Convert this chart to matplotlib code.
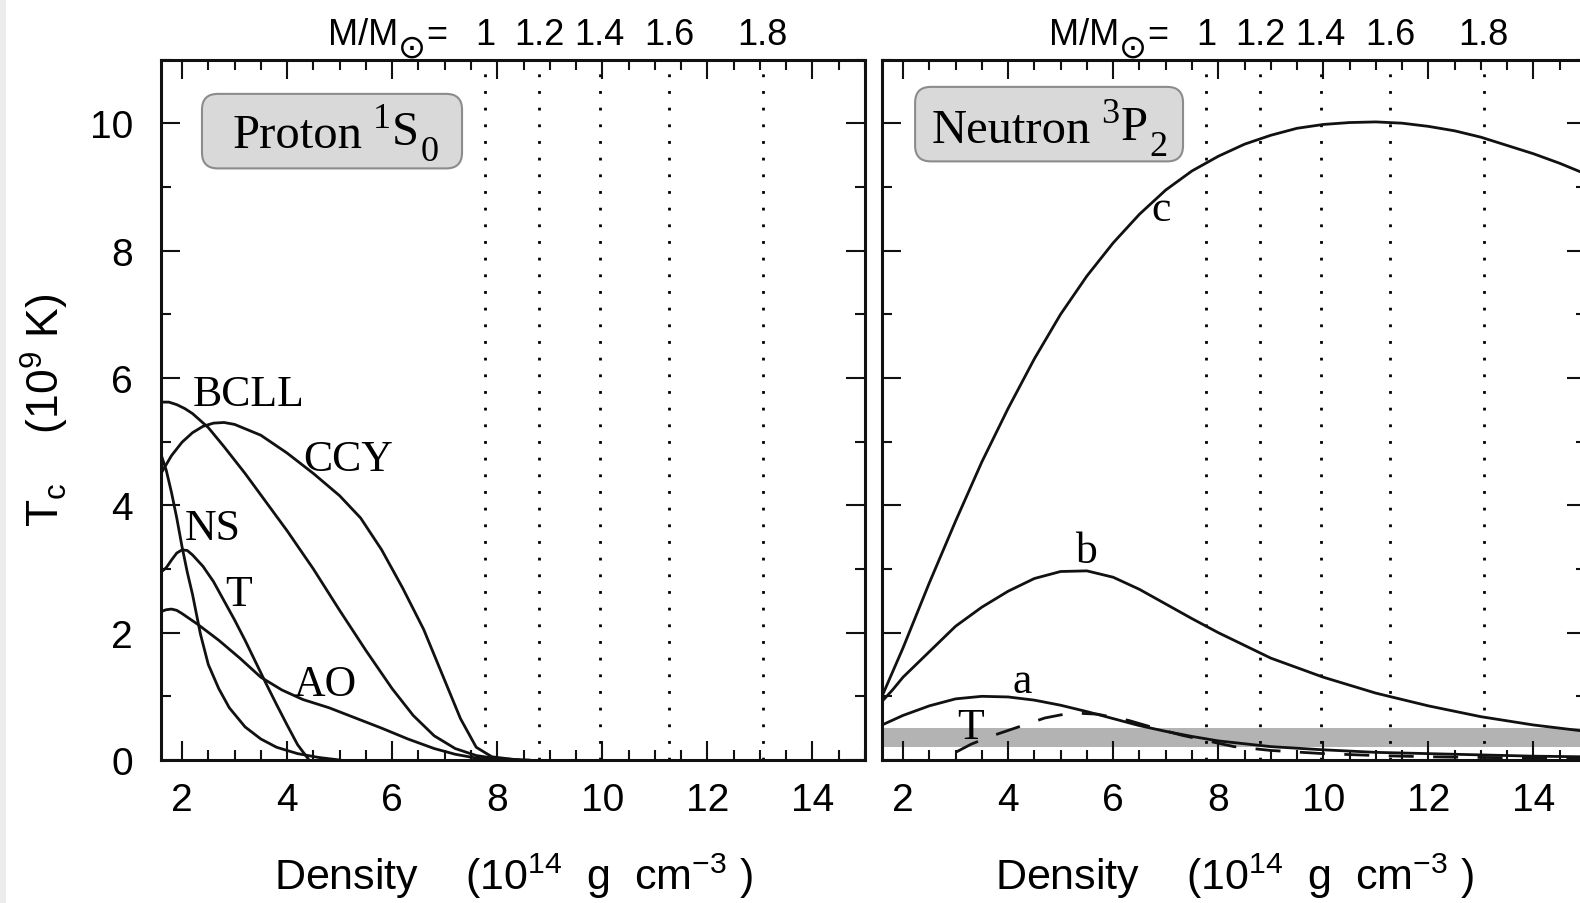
import matplotlib
matplotlib.use("Agg")
import matplotlib.pyplot as plt
from matplotlib.patches import Rectangle, FancyBboxPatch
from matplotlib.ticker import MultipleLocator

plt.rcParams['font.family'] = ['Liberation Sans', 'DejaVu Sans']
plt.rcParams['mathtext.fontset'] = 'custom'
plt.rcParams['mathtext.rm'] = 'Liberation Sans'
plt.rcParams['mathtext.it'] = 'Liberation Sans:italic'
plt.rcParams['mathtext.bf'] = 'Liberation Sans:bold'

# stellar mass markers (central density where M/Msun is reached)
mass_rho = [7.77, 8.8, 9.95, 11.27, 13.05]
mass_lbl = ['1', '1.2', '1.4', '1.6', '1.8']

# proton 1S0 gap models
bcll_x = [1.6, 1.75, 1.9, 2.05, 2.2, 2.5, 2.8, 3.2, 3.6, 4.0, 4.5, 5.0, 5.5, 6.0, 6.4, 6.8, 7.2, 7.6, 8.0, 8.6]
bcll_y = [5.62, 5.62, 5.58, 5.52, 5.44, 5.22, 4.92, 4.5, 4.05, 3.6, 3.0, 2.35, 1.72, 1.12, 0.7, 0.38, 0.18, 0.07, 0.02, 0.0]

ccy_x = [1.6, 1.8, 2.0, 2.2, 2.4, 2.6, 2.8, 3.0, 3.5, 4.0, 4.5, 5.0, 5.4, 5.8, 6.2, 6.6, 7.0, 7.3, 7.6, 7.9, 8.4]
ccy_y = [4.5, 4.78, 4.99, 5.14, 5.24, 5.29, 5.3, 5.27, 5.1, 4.82, 4.5, 4.15, 3.8, 3.3, 2.7, 2.05, 1.25, 0.65, 0.2, 0.05, 0.0]

ns_x = [1.6, 1.7, 1.8, 1.9, 2.0, 2.1, 2.2, 2.35, 2.5, 2.7, 2.9, 3.2, 3.5, 3.8, 4.2, 4.6, 5.0]
ns_y = [4.8, 4.55, 4.2, 3.8, 3.35, 2.95, 2.6, 1.98, 1.5, 1.12, 0.82, 0.52, 0.33, 0.2, 0.1, 0.04, 0.0]

t_x = [1.6, 1.7, 1.8, 1.9, 2.0, 2.1, 2.2, 2.4, 2.6, 2.8, 3.0, 3.2, 3.4, 3.6, 3.8, 4.0, 4.2, 4.4]
t_y = [2.95, 3.02, 3.14, 3.25, 3.3, 3.29, 3.22, 3.04, 2.8, 2.5, 2.2, 1.88, 1.54, 1.2, 0.87, 0.55, 0.24, 0.02]

ao_x = [1.6, 1.7, 1.8, 1.9, 2.0, 2.3, 2.7, 3.1, 3.5, 3.9, 4.3, 4.8, 5.3, 5.8, 6.3, 6.8, 7.2, 7.6, 8.0]
ao_y = [2.33, 2.36, 2.37, 2.35, 2.3, 2.13, 1.88, 1.6, 1.3, 1.1, 0.95, 0.82, 0.66, 0.5, 0.33, 0.18, 0.09, 0.03, 0.0]

# neutron 3P2 gap models
c_x = [1.6, 1.8, 2.0, 2.5, 3.0, 3.5, 4.0, 4.5, 5.0, 5.5, 6.0, 6.5, 7.0, 7.5, 8.0, 8.5, 9.0, 9.5,
       10.0, 10.5, 11.0, 11.5, 12.0, 12.5, 13.0, 13.5, 14.0, 14.5, 15.0]
c_y = [1.0, 1.38, 1.76, 2.78, 3.75, 4.68, 5.52, 6.3, 7.0, 7.6, 8.12, 8.57, 8.95, 9.25, 9.48, 9.67, 9.81, 9.92,
       9.98, 10.01, 10.02, 10.0, 9.95, 9.88, 9.78, 9.65, 9.52, 9.37, 9.2]

b_x = [1.6, 1.8, 2.0, 2.5, 3.0, 3.5, 4.0, 4.5, 5.0, 5.5, 6.0, 6.5, 7.0, 7.5, 8.0, 9.0, 10.0, 11.0, 12.0, 13.0, 14.0, 15.0]
b_y = [0.92, 1.1, 1.3, 1.7, 2.1, 2.4, 2.65, 2.85, 2.96, 2.97, 2.87, 2.68, 2.45, 2.22, 2.0, 1.6, 1.3, 1.05, 0.85, 0.68, 0.55, 0.45]

a_x = [1.6, 2.0, 2.5, 3.0, 3.5, 4.0, 4.5, 5.0, 5.5, 6.0, 6.5, 7.0, 7.5, 8.0, 9.0, 10.0, 11.0, 12.0, 13.0, 14.0, 15.0]
a_y = [0.55, 0.7, 0.85, 0.96, 1.0, 0.99, 0.94, 0.86, 0.76, 0.65, 0.54, 0.45, 0.37, 0.3, 0.21, 0.16, 0.12, 0.1, 0.08, 0.06, 0.05]

tn_x = [3.0, 3.3, 3.7, 4.2, 4.7, 5.2, 5.7, 6.3, 6.8, 7.3, 7.8, 8.3, 9.0, 10.0, 11.0, 12.0, 13.0, 14.0, 15.0]
tn_y = [0.12, 0.25, 0.38, 0.52, 0.66, 0.74, 0.72, 0.62, 0.5, 0.39, 0.3, 0.21, 0.15, 0.1, 0.07, 0.05, 0.04, 0.03, 0.02]

# observed-range band in the neutron panel
band = (0.2, 0.5)

W, H = 1580, 904
fig = plt.figure(figsize=(W / 100, H / 100), dpi=100)
fig.add_artist(Rectangle((0, 0), 6 / W, 1, transform=fig.transFigure, color='#ececec', lw=0))

ax1 = fig.add_axes([161 / W, 1 - 761 / H, 704 / W, 700.5 / H])
ax2 = fig.add_axes([882 / W, 1 - 761 / H, 704 / W, 700.5 / H])

serif = ['Liberation Serif', 'DejaVu Serif']
lw = 2.0


def setup(ax, ylabels=True):
    ax.set_xlim(1.6, 15)
    ax.set_ylim(0, 11)
    ax.xaxis.set_major_locator(MultipleLocator(2))
    ax.xaxis.set_minor_locator(MultipleLocator(0.5))
    ax.yaxis.set_major_locator(MultipleLocator(2))
    ax.yaxis.set_minor_locator(MultipleLocator(1))
    ax.tick_params(which='both', direction='in', top=True, right=True, width=1.5, color='#111111')
    ax.tick_params(which='major', length=14)
    ax.tick_params(which='minor', length=7)
    ax.tick_params(axis='x', labelsize=28, pad=16)
    ax.tick_params(axis='y', labelsize=28, pad=20, labelleft=ylabels)
    for s in ax.spines.values():
        s.set_linewidth(2.2)
        s.set_color('#111111')
    for r in mass_rho:
        ax.axvline(r, color='k', ls=(0, (1, 5)), lw=2, zorder=1)
    tr = ax.get_xaxis_transform()
    for r, m in zip(mass_rho, mass_lbl):
        ax.text(r, 1.022, m, transform=tr, ha='center', va='baseline', fontsize=26)
    # "M/M(sun)=" built from pieces so the sun symbol can be sized freely
    m1 = ax.text(4.77, 1.022, 'M/M', transform=tr, ha='left', va='baseline', fontsize=26)
    m2 = ax.annotate('\u2299', xy=(1, 0), xycoords=m1, xytext=(0, -3), textcoords='offset points',
                     family='DejaVu Sans', fontsize=24, ha='left', va='baseline')
    ax.annotate('=', xy=(1, 0), xycoords=(m2, m1), xytext=(0, 0), textcoords='offset points',
                fontsize=26, ha='left', va='bottom')
    ax.set_xlabel(r'Density    (10$^{14}$  g  cm$^{-3}$ )', fontsize=31, labelpad=23)


def state_label(ax, x, y, name, up, letter, down, box_xy, box_wh):
    # rounded grey box, then the term symbol built piece by piece
    px = 52.54 / 63.68
    ax.add_patch(FancyBboxPatch(box_xy, box_wh[0], box_wh[1],
                                boxstyle='round,pad=0,rounding_size=0.3', mutation_aspect=px,
                                fc='#d9d9d9', ec='#8c8c8c', lw=1.5, zorder=6))
    t = ax.text(x, y, name, family=serif, fontsize=35, va='baseline', ha='left', zorder=7)
    s1 = ax.annotate(up, xy=(1, 0), xycoords=t, xytext=(7, 21.6), textcoords='offset points',
                     family=serif, fontsize=26, va='baseline', ha='left', zorder=7)
    s2 = ax.annotate(letter, xy=(1, 0), xycoords=s1, xytext=(1, -6.4), textcoords='offset points',
                     family=serif, fontsize=35, va='baseline', ha='left', zorder=7)
    ax.annotate(down, xy=(1, 0), xycoords=s2, xytext=(1, -4.4), textcoords='offset points',
                family=serif, fontsize=26, va='baseline', ha='left', zorder=7)


setup(ax1)
setup(ax2, ylabels=False)

for xs, ys in [(bcll_x, bcll_y), (ccy_x, ccy_y), (ns_x, ns_y), (t_x, t_y), (ao_x, ao_y)]:
    ax1.plot(xs, ys, color='#111111', lw=lw, zorder=3, solid_joinstyle='round')

ax2.axhspan(band[0], band[1], color='#b3b3b3', lw=0, zorder=0)
for xs, ys in [(c_x, c_y), (b_x, b_y), (a_x, a_y)]:
    ax2.plot(xs, ys, color='#111111', lw=lw, zorder=3, solid_joinstyle='round')
ax2.plot(tn_x, tn_y, color='#111111', lw=lw, ls=(0, (9, 7)), zorder=3)

lab = dict(family=serif, fontsize=31.5, ha='center', va='center', zorder=5)
ax1.text(3.26, 5.75, 'BCLL', **lab)
ax1.text(5.16, 4.72, 'CCY', **lab)
ax1.text(2.59, 3.64, 'NS', **lab)
ax1.text(3.07, 2.61, 'T', **lab)
ax1.text(4.72, 1.2, 'AO', **lab)
ax2.text(6.92, 8.65, 'c', **lab)
ax2.text(5.49, 3.28, 'b', **lab)
ax2.text(4.26, 1.24, 'a', **lab)
ax2.text(3.28, 0.52, 'T', **lab)

state_label(ax1, 2.97, 9.63, 'Proton', '1', 'S', '0', (2.38, 9.29), (4.95, 1.17))
state_label(ax2, 2.55, 9.70, 'Neutron', '3', 'P', '2', (2.23, 9.40), (5.10, 1.17))

fig.text(45 / W, 1 - 410 / H, r'T$_{\rm c}$    (10$^9$ K)', rotation=90, ha='center', va='center', fontsize=32)

fig.savefig('out.png', dpi=100)
